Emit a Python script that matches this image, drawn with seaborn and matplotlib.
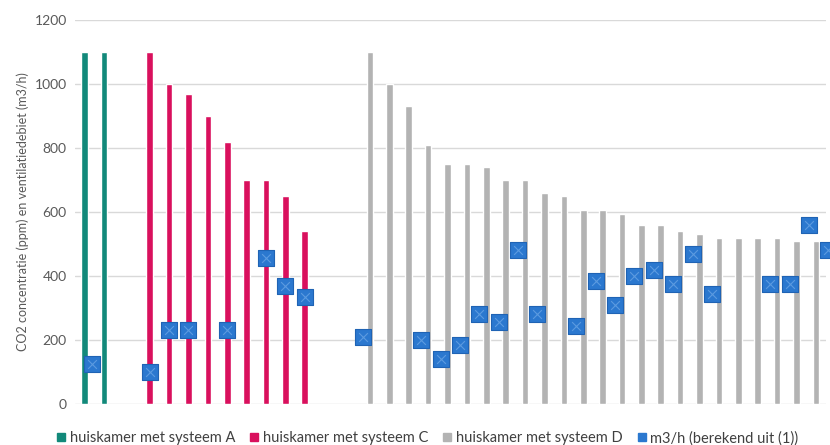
import matplotlib
matplotlib.use("Agg")
import matplotlib.pyplot as plt
from matplotlib.lines import Line2D
import numpy as np
import pandas as pd
import seaborn as sns

# CO2 concentration (ppm) per living room, grouped by ventilation system
ppm_a = [1100, 1100]
ppm_c = [1100, 1000, 970, 900, 820, 700, 700, 650, 540]
ppm_d = [1100, 1000, 930, 810, 750, 750, 740, 700, 700, 660, 650, 605, 605,
         595, 560, 560, 540, 530, 520, 520, 520, 520, 510, 510, 510]

# calculated ventilation rate (m3/h) for the same rooms, None = not determined
m3h_a = [125, None]
m3h_c = [100, 230, 230, None, 230, None, 455, 370, 335]
m3h_d = [210, None, None, 200, 140, 185, 280, 255, 480, 280, None, 245, 385,
         310, 400, 420, 375, 470, 345, None, None, 375, 375, 560, 480]

series = ["huiskamer met systeem A", "huiskamer met systeem C",
          "huiskamer met systeem D"]
line_label = "m3/h (berekend uit (1))"
colors = ["#12897a", "#d9105d", "#b3b3b3"]
blue = "#2b78cf"

# one empty slot between A and C, two between C and D
starts = [0, len(ppm_a) + 1, len(ppm_a) + 1 + len(ppm_c) + 2]
n_slots = starts[2] + len(ppm_d)

rows, pts = [], []
for name, start, vals, flows in zip(series, starts, [ppm_a, ppm_c, ppm_d],
                                    [m3h_a, m3h_c, m3h_d]):
    for i, (v, f) in enumerate(zip(vals, flows)):
        rows.append({"positie": start + i, "systeem": name, "ppm": v})
        if f is not None:
            pts.append({"positie": start + i, "m3h": f})
bars = pd.DataFrame(rows)
points = pd.DataFrame(pts)

sns.set_theme(style="white")
plt.rcParams["font.family"] = ["Lato", "DejaVu Sans"]

fig = plt.figure(figsize=(8.3, 4.45), dpi=100)
ax = fig.add_axes([75 / 830, 41 / 445, (826 - 75) / 830, (404 - 20) / 445])

sns.barplot(data=bars, x="positie", y="ppm", hue="systeem",
            order=list(range(n_slots)), hue_order=series, palette=colors,
            width=1.08, gap=0.05, dodge=True, saturation=1, legend=False,
            ax=ax, zorder=2)

sns.scatterplot(data=points, x="positie", y="m3h", marker="s", s=140,
                color=blue, edgecolor="#1f63b4", linewidth=0.8, ax=ax,
                clip_on=False, zorder=4, legend=False)
sns.scatterplot(data=points, x="positie", y="m3h", marker="x", s=40,
                color="#5c9be0", linewidth=0.8, ax=ax, clip_on=False,
                zorder=5, legend=False)

x0 = -16.5 / 19.39
ax.set_xlim(x0, x0 + (826 - 75) / 19.39)
ax.set_ylim(0, 1200)
ax.set_yticks(np.arange(0, 1201, 200))
ax.set_xticks([])
ax.set_xlabel("")
ax.set_ylabel("CO2 concentratie (ppm) en ventilatiedebiet (m3/h)",
              fontsize=9, color="#595959", labelpad=4)
ax.tick_params(axis="y", length=0, labelsize=10, labelcolor="#595959", pad=6)
ax.yaxis.grid(True, color="#d9d9d9", linewidth=1)
ax.set_axisbelow(True)
for s in ax.spines.values():
    s.set_visible(False)

handles = [Line2D([], [], marker="s", linestyle="none", markersize=6,
                  markerfacecolor=c, markeredgecolor=c) for c in colors]
handles.append(Line2D([], [], marker="s", linestyle="none", markersize=6,
                      markerfacecolor=blue, markeredgecolor=blue))
fig.legend(handles, series + [line_label], loc="lower center", ncol=4,
           bbox_to_anchor=(0.515, -0.03), frameon=False, fontsize=10.5,
           handlelength=0.6, handletextpad=0.3, columnspacing=1.0,
           labelcolor="#404040")

fig.savefig("out.png", dpi=100)
